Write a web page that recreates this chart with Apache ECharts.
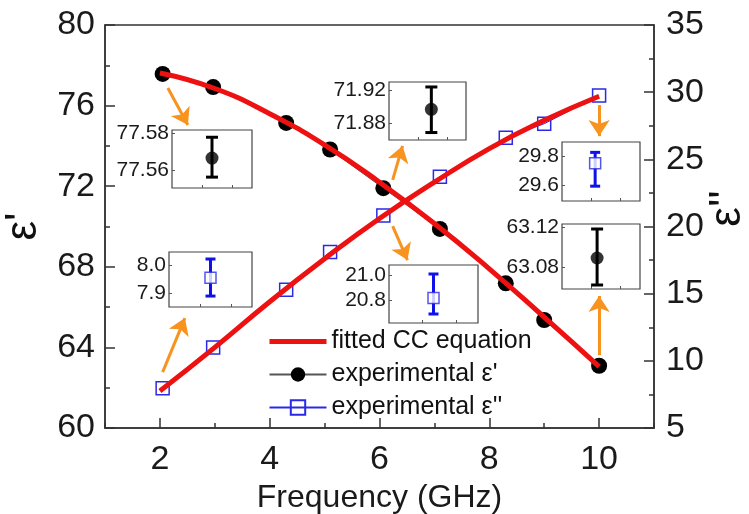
<!DOCTYPE html>
<html><head><meta charset="utf-8">
<script src="https://cdn.jsdelivr.net/npm/echarts@6/dist/echarts.min.js"></script>
<style>html,body{margin:0;padding:0;background:#fff}#c{width:749px;height:514px}</style>
</head><body><div id="c"></div>
<script>
// ---------- data ----------
const freq = [2.05, 2.97, 4.3, 5.1, 6.07, 7.1, 8.3, 9.0, 10.0];
const epsReal = [77.57, 76.92, 75.14, 73.82, 71.9, 69.88, 67.18, 65.36, 63.09];
const epsImag = [7.95, 11.0, 15.3, 18.1, 20.82, 23.7, 26.6, 27.65, 29.75];
const fitFreq = [2, 3, 4, 5, 6, 7, 8, 9, 10];
const fitReal = [77.62, 76.85, 75.6, 74.05, 72.2, 70.15, 67.9, 65.5, 63.05];
const fitImag = [7.75, 11.0, 14.4, 17.6, 20.6, 23.3, 25.8, 27.9, 29.7];
const xTickLabels = [2, 4, 6, 8, 10];
const leftTicks = [60, 64, 68, 72, 76, 80];
const rightTicks = [5, 10, 15, 20, 25, 30, 35];
// insets (zoomed error bars)
const insetKind = ['real', 'real', 'imag', 'real', 'imag', 'imag'];
const insetValue = [77.5665, 71.897, 29.752, 63.089, 7.954, 20.816];
const insetLow = [77.556, 71.869, 29.593, 63.062, 7.889, 20.688];
const insetHigh = [77.578, 71.924, 29.828, 63.118, 8.021, 21.008];
const insetTickLabels = [[77.56, 77.58], [71.88, 71.92], [29.6, 29.8], [63.08, 63.12], [7.9, 8.0], [20.8, 21.0]];
const insetDigits = [2, 2, 1, 2, 1, 1];

// ---------- layout ----------
const FONT = 'Liberation Sans, Arial, sans-serif';
const RED = '#ee1111', BLUE = '#2a2ae6', ORANGE = '#F7931E', AX = '#333';
const insetBox = [
  {left:172, top:130, width:80, height:58, min:77.550, max:77.582, x:1.0},
  {left:389, top:82,  width:77, height:58, min:71.860, max:71.930, x:1.1},
  {left:562, top:142, width:78, height:59, min:29.49,  max:29.90,  x:0.85},
  {left:562, top:224, width:78, height:65, min:63.058, max:63.123, x:0.9},
  {left:169, top:252, width:83, height:55, min:7.85,   max:8.046,  x:1.0},
  {left:389, top:265, width:89, height:58, min:20.616, max:21.08,  x:1.0}
];
const arrowsReal = [[[2.145,76.87],[2.51,75.04]], [[6.24,72.31],[6.42,74.0]], [[10,63.62],[10,66.55]]];
const arrowsImag = [[[2.05,9.16],[2.455,13.18]], [[6.24,20.03],[6.51,17.5]], [[10,29.04],[10,26.73]]];

const zip = (a, b) => a.map((v, i) => [v, b[i]]);
const axLine = {show:true, lineStyle:{color:AX, width:1.5}};
const arrowData = arr => arr.map(p => [{coord:p[0]}, {coord:p[1]}]);
const arrowMark = arr => ({silent:true, symbol:['none','arrow'], symbolSize:16, label:{show:false},
  itemStyle:{color:ORANGE}, lineStyle:{color:ORANGE, width:3, type:'solid', opacity:1},
  emphasis:{disabled:true}, data:arrowData(arr)});

const grids = [{left:105, right:95, top:25, bottom:86, show:true, borderColor:AX, borderWidth:1.5,
  containLabel:false, outerBoundsMode:'none'}];
const xAxes = [
  {type:'value', gridIndex:0, min:1, max:11, interval:1, position:'bottom',
   axisLine:axLine, axisTick:{inside:true, length:5, lineStyle:{color:AX, width:1.5}},
   axisLabel:{formatter:v => (xTickLabels.indexOf(v) >= 0 ? String(v) : ''), fontSize:34, color:'#1a1a1a', fontFamily:FONT, margin:15},
   splitLine:{show:false},
   name:'Frequency (GHz)', nameLocation:'middle', nameGap:48,
   nameTextStyle:{fontSize:32, color:'#1a1a1a', fontFamily:FONT}},
  {type:'value', gridIndex:0, min:1, max:11, interval:1, position:'bottom',
   axisLine:{show:false}, axisTick:{inside:true, length:10, customValues:xTickLabels, lineStyle:{color:AX, width:1.5}},
   axisLabel:{show:false}, splitLine:{show:false}}
];
const yAxes = [
  {type:'value', gridIndex:0, min:60, max:80, interval:4, position:'left',
   axisLine:axLine, axisTick:{inside:true, length:10, lineStyle:{color:AX, width:1.5}},
   minorTick:{show:true, splitNumber:2, length:5, lineStyle:{color:AX, width:1.5}},
   axisLabel:{fontSize:34, color:'#1a1a1a', fontFamily:FONT, margin:10, customValues:leftTicks},
   splitLine:{show:false},
   name:"ε'", nameLocation:'middle', nameRotate:90, nameGap:54,
   nameTextStyle:{fontSize:44, color:'#111', fontFamily:FONT}},
  {type:'value', gridIndex:0, min:5, max:35, interval:5, position:'right',
   axisLine:axLine, axisTick:{inside:true, length:10, lineStyle:{color:AX, width:1.5}},
   minorTick:{show:true, splitNumber:2, length:5, lineStyle:{color:AX, width:1.5}},
   axisLabel:{fontSize:34, color:'#1a1a1a', fontFamily:FONT, margin:12, customValues:rightTicks},
   splitLine:{show:false},
   name:"ε''", nameLocation:'middle', nameRotate:90, nameGap:52, nameMoveOverlap:false,
   nameTextStyle:{fontSize:44, color:'#111', fontFamily:FONT, padding:[0, 0, 0, 36]}}
];

const series = [
  {type:'line', name:"experimental ε'", xAxisIndex:0, yAxisIndex:0, data:zip(freq, epsReal),
   symbol:'circle', symbolSize:16, itemStyle:{color:'#000'}, lineStyle:{color:'#555', width:1}, z:3,
   markLine:arrowMark(arrowsReal)},
  {type:'line', name:"experimental ε''", xAxisIndex:0, yAxisIndex:1, data:zip(freq, epsImag),
   symbol:'rect', symbolSize:13, itemStyle:{color:'rgba(255,255,255,0)', borderColor:BLUE, borderWidth:1.5},
   lineStyle:{color:BLUE, width:1}, z:3,
   markLine:arrowMark(arrowsImag)},
  {type:'line', name:'fitted CC equation', xAxisIndex:0, yAxisIndex:0, data:zip(fitFreq, fitReal),
   smooth:true, symbol:'none', lineStyle:{color:RED, width:5}, itemStyle:{color:RED}, z:4},
  {type:'line', name:'fitted CC equation', xAxisIndex:0, yAxisIndex:1, data:zip(fitFreq, fitImag),
   smooth:true, symbol:'none', lineStyle:{color:RED, width:5}, itemStyle:{color:RED}, z:4}
];

insetBox.forEach((b, i) => {
  const gi = i + 1, ai = i + 2;
  const isReal = insetKind[i] === 'real';
  const col = isReal ? '#000' : '#1010e8';
  grids.push({left:b.left, top:b.top, width:b.width, height:b.height, show:true, borderColor:'#444', borderWidth:1.2,
    backgroundColor:'#fff', z:5, containLabel:false, outerBoundsMode:'none'});
  xAxes.push({type:'value', gridIndex:gi, min:0, max:2, axisLine:{show:false},
    axisTick:{inside:true, length:3, customValues:[0.75, 1.5], lineStyle:{color:'#555'}},
    axisLabel:{show:false}, splitLine:{show:false}, z:6});
  yAxes.push({type:'value', gridIndex:gi, min:b.min, max:b.max, axisLine:{show:false},
    axisTick:{inside:true, length:3, customValues:insetTickLabels[i], lineStyle:{color:'#555'}},
    axisLabel:{customValues:insetTickLabels[i], formatter:v => v.toFixed(insetDigits[i]),
      fontSize:21, color:'#1a1a1a', fontFamily:FONT, margin:3},
    splitLine:{show:false}, z:6});
  series.push({type:'custom', xAxisIndex:ai, yAxisIndex:ai, z:7,
    data:[[b.x, insetValue[i], insetLow[i], insetHigh[i]]],
    encode:{x:0, y:[1,2,3]},
    renderItem:(params, api) => {
      const x = api.value(0);
      const t = api.coord([x, api.value(3)]);
      const d = api.coord([x, api.value(2)]);
      const h = isReal ? 6 : 5;
      const st = {stroke:col, lineWidth:3};
      return {type:'group', children:[
        {type:'line', shape:{x1:t[0], y1:t[1], x2:d[0], y2:d[1]}, style:st},
        {type:'line', shape:{x1:t[0]-h, y1:t[1], x2:t[0]+h, y2:t[1]}, style:st},
        {type:'line', shape:{x1:d[0]-h, y1:d[1], x2:d[0]+h, y2:d[1]}, style:st}
      ]};
    }});
  series.push({type:'scatter', xAxisIndex:ai, yAxisIndex:ai, z:8,
    data:[[b.x, insetValue[i]]],
    symbol:isReal ? 'circle' : 'rect', symbolSize:isReal ? 13 : 11,
    itemStyle:isReal ? {color:'#000'} : {color:'#fff', borderColor:BLUE, borderWidth:1.5}});
});

const chart = echarts.init(document.getElementById('c'), null, {renderer:'canvas'});
chart.setOption({
  animation:false,
  backgroundColor:'#fff',
  grid:grids, xAxis:xAxes, yAxis:yAxes, series:series,
  legend:{orient:'vertical', left:262, top:324, itemWidth:57, itemHeight:18, itemGap:8,
    textStyle:{fontSize:25, color:'#111', fontFamily:FONT},
    data:[{name:'fitted CC equation', itemStyle:{opacity:0}, lineStyle:{width:5, color:RED}},
          "experimental ε'", "experimental ε''"]}
});
</script></body></html>
